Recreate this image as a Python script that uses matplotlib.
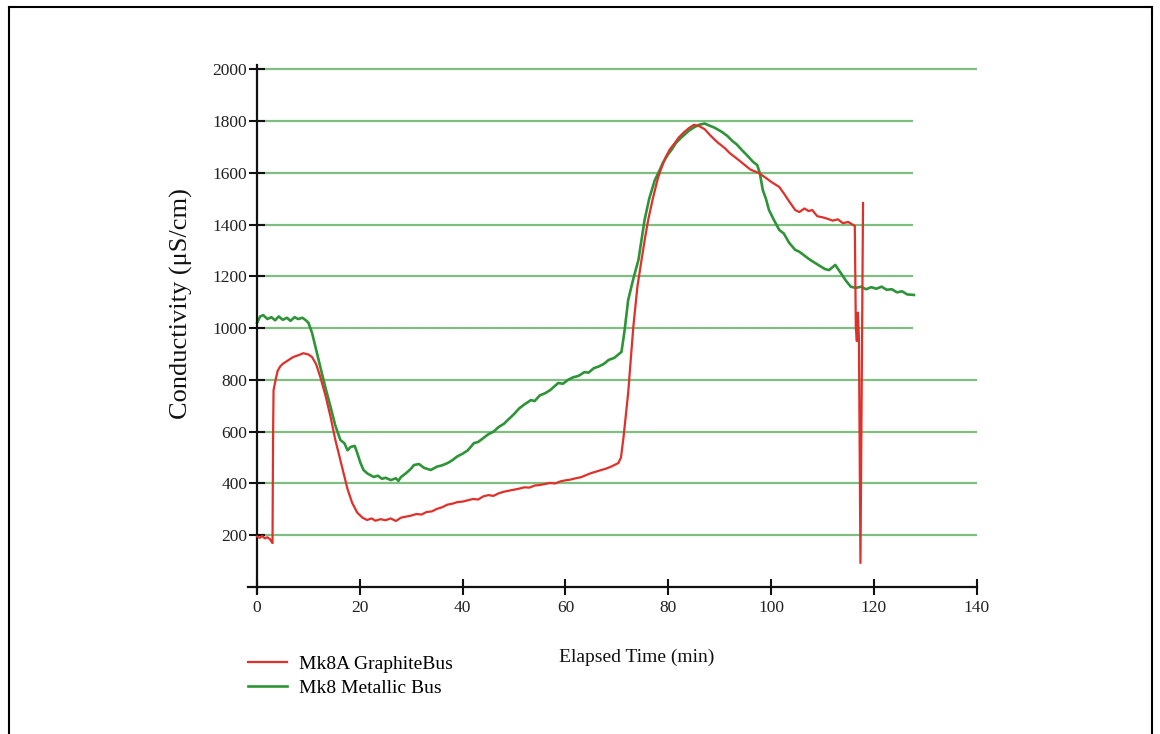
import matplotlib
matplotlib.use('Agg')
import matplotlib.pyplot as plt
from matplotlib.lines import Line2D

plt.rcParams['font.family'] = 'Liberation Serif'

# Mk8A graphite bus run: elapsed time (min), conductivity (uS/cm)
graphite_t = [0, 0.5, 1, 1.5, 2, 2.5, 2.9, 3.0, 3.1, 3.2, 3.6, 4, 4.5, 5, 6, 7, 8, 9, 10, 10.7,
              11.5, 12.3, 13.3, 14.3, 15.2, 16.2, 17, 17.6, 18.5, 19.5, 20.5, 21.4, 22.3, 23, 24,
              25, 26, 27, 28, 29, 30, 31, 32, 33, 34, 35, 36, 37, 38, 39, 40, 41, 42, 43, 44, 45,
              46, 47, 48, 49, 50, 51, 52, 53, 54, 55, 56, 57, 58, 59, 60, 61, 62, 63, 64, 65, 66,
              67, 68, 69, 70.3, 70.8, 71.3, 72.2, 73.2, 74, 74.8, 75.5, 76.1, 77, 78, 78.7, 79.5,
              80.3, 81.3, 82, 83, 84, 85, 86, 87.1, 88, 89, 89.8, 91, 92, 93, 93.7, 95, 96, 97.6,
              99, 100, 101.6, 102.5, 103.5, 104.7, 105.5, 106.5, 107.3, 108, 109, 110, 111, 112,
              113, 114, 115, 116, 116.3, 116.5, 116.7, 116.9, 117.1, 117.4, 117.9]
graphite_v = [195, 190, 197, 188, 192, 185, 172, 170, 560, 760, 800, 835, 852, 862, 875, 888, 895,
              903, 898, 888, 860, 811, 740, 657, 570, 490, 425, 378, 325, 287, 268, 259, 265, 256,
              262, 258, 265, 255, 268, 272, 276, 282, 280, 290, 292, 302, 308, 318, 322, 328, 330,
              335, 340, 338, 350, 355, 352, 362, 368, 372, 376, 380, 385, 384, 392, 394, 398, 402,
              400, 408, 412, 415, 420, 424, 432, 440, 446, 452, 458, 466, 479, 500, 579, 749, 1004,
              1160, 1263, 1350, 1418, 1500, 1580, 1620, 1660, 1690, 1715, 1735, 1755, 1772, 1785,
              1780, 1768, 1748, 1728, 1714, 1695, 1675, 1660, 1649, 1628, 1612, 1599, 1580, 1565,
              1545, 1520, 1490, 1456, 1448, 1462, 1452, 1456, 1432, 1428, 1422, 1415, 1420, 1405,
              1410, 1398, 1395, 1000, 950, 1060, 960, 93, 1483]

# Mk8 metallic bus run
metallic_t = [0, 0.6, 1.2, 2, 2.8, 3.5, 4.2, 5, 5.8, 6.5, 7.3, 8, 8.8, 9.5, 10, 10.7, 11.5, 12.3,
              13.3, 14.3, 15.2, 16.2, 17, 17.6, 18.2, 19, 19.5, 20.1, 20.7, 21.5, 22.7, 23.5, 24.3,
              25, 26, 27, 27.5, 28, 29, 30, 30.5, 31.5, 32.5, 33.8, 35, 36, 37.1, 38, 39, 40, 41,
              42.2, 43, 44, 45, 46, 47, 48, 48.8, 50, 51, 52, 53.3, 54, 55, 56, 57, 58.6, 59.5,
              60.5, 61.5, 62.5, 63.7, 64.5, 65.5, 66.5, 67.5, 68.4, 69.5, 70.9, 71.5, 72.2, 73.2,
              74.2, 74.8, 75.4, 76.3, 77.4, 78.1, 79, 80, 80.7, 81.5, 82.5, 84, 85, 86, 87.1, 88,
              89, 90.4, 91.5, 92.5, 93.3, 94.3, 95.3, 96.5, 97.3, 97.8, 98.4, 99, 99.6, 100.5,
              101.6, 102.5, 103.5, 104.7, 105.5, 106.5, 107.5, 108.6, 109.5, 110.5, 111.3, 112.5,
              113.5, 114.5, 115.5, 116.5, 117.5, 118.5, 119.5, 120.5, 121.5, 122.5, 123.5, 124.5,
              125.5, 126.5, 127.8]
metallic_v = [1020, 1045, 1050, 1035, 1042, 1030, 1045, 1032, 1040, 1028, 1042, 1035, 1040, 1030,
              1020, 981, 915, 850, 770, 695, 625, 568, 555, 528, 541, 545, 517, 480, 452, 438, 425,
              430, 418, 422, 413, 420, 410, 425, 440, 458, 471, 475, 460, 452, 465, 470, 479, 490,
              505, 515, 528, 556, 560, 575, 590, 600, 618, 630, 645, 668, 690, 705, 722, 718, 740,
              748, 760, 788, 785, 800, 810, 815, 830, 828, 845, 852, 862, 877, 885, 908, 990, 1108,
              1190, 1263, 1340, 1418, 1500, 1572, 1600, 1640, 1672, 1690, 1715, 1735, 1762, 1775,
              1785, 1790, 1782, 1774, 1758, 1742, 1722, 1710, 1688, 1668, 1642, 1630, 1600, 1533,
              1500, 1456, 1420, 1379, 1365, 1330, 1302, 1295, 1280, 1265, 1251, 1240, 1228, 1224,
              1244, 1215, 1185, 1160, 1155, 1160, 1150, 1158, 1152, 1160, 1148, 1150, 1138, 1142,
              1130, 1128]

x_ticks = [0, 20, 40, 60, 80, 100, 120, 140]
y_ticks = [200, 400, 600, 800, 1000, 1200, 1400, 1600, 1800, 2000]

fig = plt.figure(figsize=(11.6, 7.34), dpi=100)
ax = fig.add_axes([0.2141, 0.1921, 0.6278, 0.719])
ax.set_xlim(-1.7, 140)
ax.set_ylim(-23, 2015)
ax.patch.set_alpha(0)

# horizontal green rules; the middle ones stop short at the right
rule_ends = [140, 140, 140, 140, 127.6, 127.6, 127.6, 127.6, 127.6, 140]
ax.hlines(y_ticks, 0, rule_ends, color='#80bd80', lw=1.6, zorder=1)

red, = ax.plot(graphite_t, graphite_v, color='#e0302a', lw=1.6, zorder=3,
               label='Mk8A GraphiteBus')
green, = ax.plot(metallic_t, metallic_v, color='#2e9438', lw=1.9, zorder=2,
                 label='Mk8 Metallic Bus')

for side in ['top', 'right']:
    ax.spines[side].set_visible(False)
ax.spines['left'].set_position(('data', 0))
ax.spines['bottom'].set_position(('data', 0))
for side in ['left', 'bottom']:
    ax.spines[side].set_linewidth(1.6)
    ax.spines[side].set_color('#111111')

ax.set_xticks(x_ticks)
ax.set_yticks(y_ticks)
ax.tick_params(direction='inout', length=12, width=1.5, color='#111111',
               labelsize=12.5, labelcolor='#222222')
ax.tick_params(axis='x', pad=3)
ax.tick_params(axis='y', pad=1)

fig.text(0.156, 0.587, 'Conductivity (\u03bcS/cm)', rotation=90, fontsize=19,
         ha='center', va='center', color='#111111')
fig.text(0.549, 0.105, 'Elapsed Time (min)', fontsize=14, ha='center', va='center',
         color='#111111')

ax.legend(handles=[red, green], loc='upper left', bbox_to_anchor=(248 / 1160, 1 - 655 / 734),
          bbox_transform=fig.transFigure, frameon=False, fontsize=14, borderpad=0,
          borderaxespad=0, handlelength=2.0, handletextpad=0.6, labelspacing=0.35)

# page frame
fig.add_artist(Line2D([9 / 1160, 9 / 1160], [0, 1 - 7 / 734], color='black', lw=1.5))
fig.add_artist(Line2D([9 / 1160, 1152 / 1160], [1 - 7 / 734, 1 - 7 / 734], color='black', lw=1.5))
fig.add_artist(Line2D([1152 / 1160, 1152 / 1160], [0, 1 - 7 / 734], color='black', lw=1.5))

fig.savefig('out.png', dpi=100)
